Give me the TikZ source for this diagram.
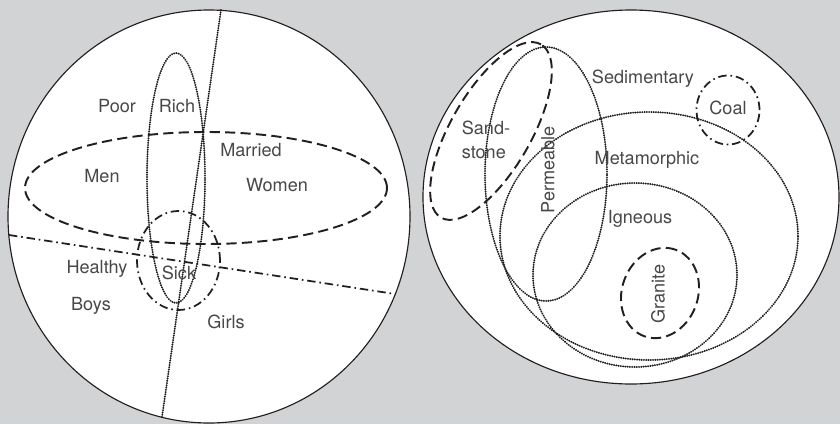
\documentclass[tikz,border=0pt]{standalone}
\usepackage{fontspec}
\setmainfont{TeX Gyre Heros}
\usepackage{tikz}
\definecolor{panelgray}{RGB}{209, 211, 212}
\definecolor{inkblack}{RGB}{35, 31, 32}
\definecolor{labelgray}{RGB}{72, 72, 74}

\begin{document}
\begin{tikzpicture}[
  x=0.02cm, y=0.02cm,
  universe/.style={draw=inkblack, fill=white, line width=0.65pt},
  dashset/.style={draw=inkblack, line width=1.1pt, dash pattern=on 5.8pt off 3pt},
  dotset/.style={draw=inkblack, line width=1.15pt, line cap=round, dash pattern=on 0.1pt off 1.2pt},
  dashdotset/.style={draw=inkblack, line width=1pt, dash pattern=on 4.8pt off 2.2pt on 0.9pt off 2.2pt},
  lbl/.style={text=labelgray, font=\fontsize{10.3}{13.5}\selectfont, inner sep=0pt}
]
  \useasboundingbox (0,0) rectangle (840,424);
  \fill[panelgray] (0,0) rectangle (840,424);

  % people
  \draw[universe] (209,207.5) ellipse (201 and 206.5);
  \draw[dotset] (176,246) ellipse (29 and 125);
  \draw[dashset] (206,236) ellipse (181 and 56);
  \draw[dashdotset] (178.5,163.5) ellipse (41.5 and 49.5);
  \coordinate (cutTop) at (221,414);
  \coordinate (cutBot) at (162,7);
  \coordinate (cutLeft) at (9,189);
  \coordinate (cutRight) at (395,130);
  \draw[dotset] (cutTop) -- (cutBot);
  \draw[dashdotset] (cutLeft) -- (cutRight);

  \node[lbl] (poor) at (117,318) {Poor};
  \node[lbl] (rich) at (177,318) {Rich};
  \node[lbl] (married) at (251,274) {Married};
  \node[lbl] (men) at (102,248) {Men};
  \node[lbl] (women) at (277,239) {Women};
  \node[lbl] (healthy) at (97,155) {Healthy};
  \node[lbl] (sick) at (179,151) {Sick};
  \node[lbl] (boys) at (91,118) {Boys};
  \node[lbl] (girls) at (226,102) {Girls};

  % rocks
  \draw[universe] (631,227) ellipse (208 and 187);
  \draw[dashset, rotate around={60:(491,293)}] (491,293) ellipse (100 and 40);
  \draw[dotset] (546,250) ellipse (61 and 127);
  \draw[dotset] (649,188) ellipse (149 and 124);
  \draw[dotset] (635,149) ellipse (102 and 92);
  \draw[dashdotset] (728,314) ellipse (31.5 and 34.5);
  \draw[dashset, rotate around={70:(660,131)}] (660,131) ellipse (46 and 38);

  \node[lbl] (sedimentary) at (643,345) {Sedimentary};
  \node[lbl] (coal) at (728,316) {Coal};
  \node[lbl, align=left] (sandstone) at (486,284) {Sand-\\stone};
  \node[lbl, rotate=90] (permeable) at (548,254) {Permeable};
  \node[lbl] (metamorphic) at (647,264) {Metamorphic};
  \node[lbl] (igneous) at (640,205) {Igneous};
  \node[lbl, rotate=90] (granite) at (658,130) {Granite};
\end{tikzpicture}
\end{document}
